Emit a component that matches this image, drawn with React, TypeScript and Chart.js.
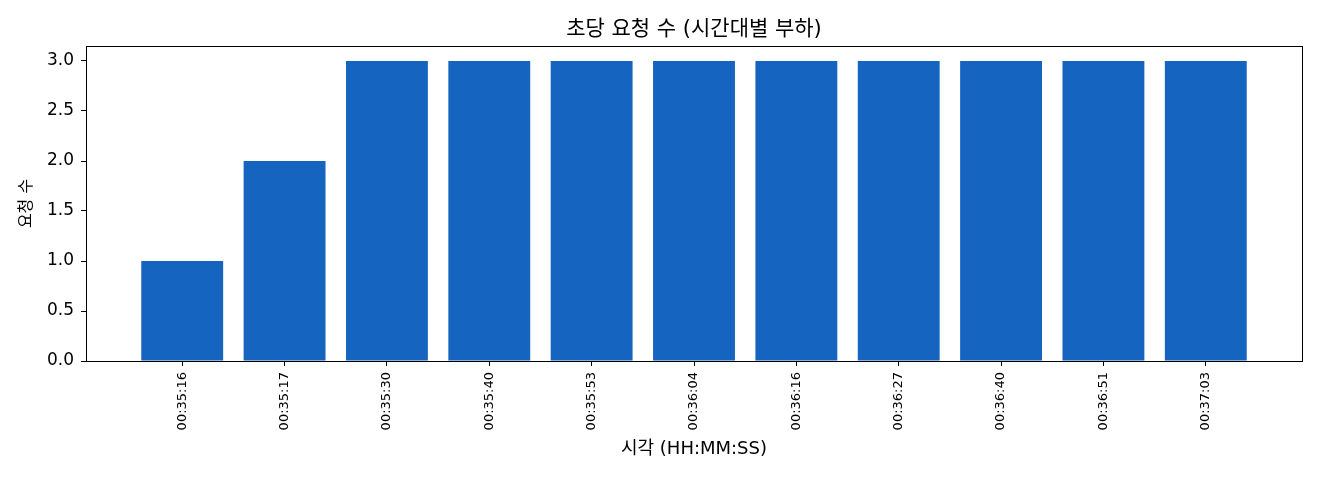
import React, { useEffect, useRef } from "react";
import { Chart, registerables } from "chart.js";

Chart.register(...registerables);

const categories = [
  "00:35:16", "00:35:17", "00:35:30", "00:35:40", "00:35:53", "00:36:04",
  "00:36:16", "00:36:27", "00:36:40", "00:36:51", "00:37:03",
];
const requests = [1, 2, 3, 3, 3, 3, 3, 3, 3, 3, 3];
const yTicks = [0, 0.5, 1.0, 1.5, 2.0, 2.5, 3.0];

const title = "초당 요청 수 (시간대별 부하)";
const xTitle = "시각 (HH:MM:SS)";
const yTitle = "요청 수";

const krFont = "'DejaVu Sans', 'Noto Sans CJK KR', sans-serif";

const framePlugin = {
  id: "frame",
  afterDatasetsDraw(chart: any) {
    const { ctx, chartArea } = chart;
    ctx.save();
    ctx.strokeStyle = "#000";
    ctx.lineWidth = 1;
    ctx.strokeRect(
      Math.round(chartArea.left) + 0.5,
      Math.round(chartArea.top) + 0.5,
      Math.round(chartArea.right - chartArea.left),
      Math.round(chartArea.bottom - chartArea.top)
    );
    ctx.fillStyle = "#000";
    ctx.font = `21px ${krFont}`;
    ctx.textAlign = "center";
    ctx.textBaseline = "middle";
    ctx.fillText(title, (chartArea.left + chartArea.right) / 2, chartArea.top - 16);
    ctx.restore();
  },
};

export default function App() {
  const ref = useRef<HTMLCanvasElement | null>(null);
  useEffect(() => {
    if (!ref.current) return;
    const font = "'DejaVu Sans', sans-serif";
    const chart = new Chart(ref.current, {
      type: "bar",
      data: {
        datasets: [
          {
            label: yTitle,
            data: requests.map((v, i) => ({ x: i, y: v })),
            backgroundColor: "#1565C0",
            borderWidth: 0,
            categoryPercentage: 0.8,
            barPercentage: 1.0,
          },
        ],
      },
      options: {
        animation: false,
        responsive: false,
        layout: { padding: { left: 0, right: 18, top: 46, bottom: 0 } },
        plugins: {
          legend: { display: false },
          tooltip: { enabled: false },
          title: { display: false },
        },
        scales: {
          x: {
            type: "linear",
            min: -0.94,
            max: 10.94,
            offset: false,
            afterBuildTicks: (scale: any) => {
              scale.ticks = categories.map((_, i) => ({ value: i }));
            },
            afterFit: (scale: any) => {
              scale.height = 119;
            },
            ticks: {
              autoSkip: false,
              minRotation: 90,
              maxRotation: 90,
              padding: 6,
              color: "#000",
              font: { family: font, size: 13 },
              callback: (v: any) => categories[v as number] ?? "",
            },
            grid: {
              offset: false,
              drawOnChartArea: false,
              drawTicks: true,
              tickLength: 5,
              color: "#000",
            },
            border: { display: true, color: "#000", width: 1 },
            title: {
              display: true,
              text: xTitle,
              color: "#000",
              font: { family: krFont, size: 18 },
              padding: { top: 0, bottom: 20 },
            },
          },
          y: {
            type: "linear",
            min: 0,
            max: 3.15,
            afterBuildTicks: (scale: any) => {
              scale.ticks = yTicks.map((v) => ({ value: v }));
            },
            afterFit: (scale: any) => {
              scale.width = 86;
            },
            ticks: {
              padding: 7,
              color: "#000",
              font: { family: font, size: 17 },
              callback: (v: any) => Number(v).toFixed(1),
            },
            grid: {
              drawOnChartArea: false,
              drawTicks: true,
              tickLength: 5,
              color: "#000",
            },
            border: { display: true, color: "#000", width: 1 },
            title: {
              display: true,
              text: yTitle,
              color: "#000",
              font: { family: krFont, size: 16 },
              padding: { top: 17, bottom: 0 },
            },
          },
        },
      },
      plugins: [framePlugin],
    } as any);
    return () => chart.destroy();
  }, []);
  return (
    <div style={{ position: "fixed", left: 0, top: 0, width: 1320, height: 480, background: "#fff" }}>
      <canvas ref={ref} width={1320} height={480} style={{ display: "block" }} />
    </div>
  );
}
